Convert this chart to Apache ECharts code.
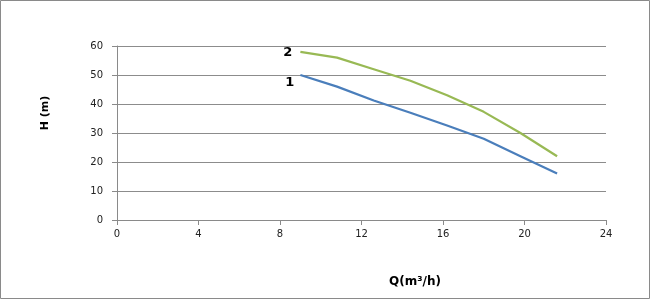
<!DOCTYPE html>
<html>
<head>
<meta charset="utf-8">
<script src="https://cdn.jsdelivr.net/npm/echarts@6/dist/echarts.min.js"></script>
<style>html,body{margin:0;padding:0;background:#fff}#c{width:650px;height:300px}</style>
</head>
<body>
<div id="c"></div>
<script>
const flow = [9, 10.8, 12.6, 14.4, 16.2, 18, 19.8, 21.6];
const head1 = [50, 46, 41.2, 37, 32.6, 28, 22, 16];
const head2 = [58, 56, 52, 48, 43, 37.3, 30, 22];
const seriesNames = ['1', '2'];
const xTicks = [0, 4, 8, 12, 16, 20, 24];
const yTicks = [0, 10, 20, 30, 40, 50, 60];

const FONT = 'DejaVu Sans, Verdana, sans-serif';
function build(values, name, lblOffset) {
  return flow.map((x, i) => {
    const item = { value: [x, values[i]] };
    if (i === 0) {
      item.label = { show: true, formatter: name, position: 'left', offset: lblOffset,
        fontFamily: FONT, fontWeight: 'bold', fontSize: 13, color: '#000' };
    }
    return item;
  });
}
const chart = echarts.init(document.getElementById('c'));
chart.setOption({
  animation: false,
  backgroundColor: '#fff',
  grid: { left: 117, right: 44, top: 46, bottom: 80 },
  xAxis: {
    type: 'value', min: xTicks[0], max: xTicks[xTicks.length - 1], interval: 4,
    axisLine: { lineStyle: { color: '#8a8a8a', width: 1 } },
    axisTick: { show: true, length: 5, lineStyle: { color: '#8a8a8a' } },
    axisLabel: { fontFamily: FONT, fontSize: 10, color: '#222', margin: 9 },
    splitLine: { show: false }
  },
  yAxis: {
    type: 'value', min: yTicks[0], max: yTicks[yTicks.length - 1], interval: 10,
    axisLine: { show: true, lineStyle: { color: '#8a8a8a', width: 1 } },
    axisTick: { show: true, length: 5, lineStyle: { color: '#8a8a8a' } },
    axisLabel: { fontFamily: FONT, fontSize: 10, color: '#222', margin: 14 },
    splitLine: { show: true, lineStyle: { color: '#8c8c8c', width: 1 } }
  },
  graphic: [
    { type: 'rect', shape: { x: 0.5, y: 0.5, width: 649, height: 298 }, style: { fill: 'none', stroke: '#8a8a8a', lineWidth: 1 } },
    { type: 'text', x: 45, y: 113, rotation: Math.PI / 2,
      style: { text: 'H (m)', font: 'bold 11px ' + FONT, fill: '#000', align: 'center', verticalAlign: 'middle' } },
    { type: 'text', x: 415, y: 282,
      style: { text: 'Q(m³/h)', font: 'bold 12px ' + FONT, fill: '#000', align: 'center', verticalAlign: 'middle' } }
  ],
  series: [
    { type: 'line', name: seriesNames[0], data: build(head1, seriesNames[0], [-1, 8]),
      symbol: 'circle', symbolSize: 0.01, showSymbol: true, showAllSymbol: true,
      lineStyle: { color: '#4a7ebb', width: 2.2 }, itemStyle: { color: '#4a7ebb' } },
    { type: 'line', name: seriesNames[1], data: build(head2, seriesNames[1], [-3, 1]),
      symbol: 'circle', symbolSize: 0.01, showSymbol: true, showAllSymbol: true,
      lineStyle: { color: '#98b954', width: 2.2 }, itemStyle: { color: '#98b954' } }
  ]
});
</script>
</body>
</html>
